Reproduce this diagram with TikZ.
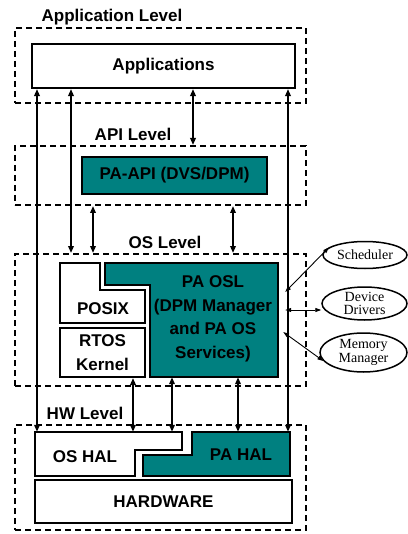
\documentclass[tikz,border=0pt]{standalone}
\usepackage{fontspec}
\setmainfont{Liberation Sans}
\newfontfamily\servicefont{Liberation Serif}
\usetikzlibrary{positioning, arrows.meta, shapes.geometric}
\definecolor{pateal}{RGB}{0,128,128}

\begin{document}
\begin{tikzpicture}[x=1pt, y=-1pt,
    font=\fontsize{17}{23.5}\selectfont\bfseries,
    level/.style={draw, dash pattern=on 6pt off 4pt, line width=2pt,
      minimum width=291pt, inner sep=0pt},
    block/.style={draw, line width=2.1pt, fill=white, inner sep=0pt},
    pablock/.style={block, fill=pateal},
    region/.style={inner sep=0pt},
    service/.style={draw, ellipse, line width=1.5pt, inner sep=0pt, align=center,
      font=\servicefont\fontsize{14}{13.5}\selectfont},
    link/.style={{Triangle[length=7pt,width=5.5pt]}-{Triangle[length=7pt,width=5.5pt]}, line width=2pt},
    thinlink/.style={{Triangle[length=6pt,width=4pt]}-{Triangle[length=6pt,width=4pt]}, line width=0.9pt}]
  \useasboundingbox (0,0) rectangle (407,534);

  % levels
  \node[level, minimum height=75pt]  (applevel) at (160.5,65.5)  {};
  \node[level, minimum height=59pt]  (apilevel) at (160.5,175.5) {};
  \node[level, minimum height=132pt] (oslevel)  at (160.5,320)   {};
  \node[level, minimum height=105pt] (hwlevel)  at (160.5,477.5) {};

  \node (applabel) at (112,17)  {Application Level};
  \node (apilabel) at (133,134) {API Level};
  \node (oslabel)  at (165,242) {OS Level};
  \node (hwlabel)  at (85,413)  {HW Level};

  % application and API
  \node[block, minimum width=263pt, minimum height=44pt] (apps) at (163.5,66) {Applications};
  \node[pablock, minimum width=185pt, minimum height=37pt] (paapi) at (174.5,175.5) {PA-API (DVS/DPM)};

  % OS level
  \draw[block] (60,263) -- (100,263) -- (100,290) -- (145,290) -- (145,323) -- (60,323) -- cycle;
  \draw[pablock] (105,263) -- (278,263) -- (278,377) -- (150,377) -- (150,285) -- (105,285) -- cycle;
  \node[region, minimum width=173pt, minimum height=114pt] (osl) at (191.5,320) {};
  \node (posix) at (103,309) {POSIX};
  \node[block, minimum width=85pt, minimum height=49pt, align=center] (rtos) at (102.5,352.5) {RTOS\\Kernel};
  \node[align=center] (osltext) at (213,319) {PA OSL\\(DPM Manager\\and PA OS\\Services)};

  % HW level
  \draw[block] (35,432) -- (182,432) -- (182,450) -- (135,450) -- (135,476) -- (35,476) -- cycle;
  \draw[pablock] (192,432) -- (290,432) -- (290,476) -- (143,476) -- (143,455) -- (192,455) -- cycle;
  \node[region, minimum width=147pt, minimum height=44pt] (oshal) at (108.5,454) {};
  \node[region, minimum width=147pt, minimum height=44pt] (pahal) at (216.5,454) {};
  \node (oshaltext) at (85,457) {OS HAL};
  \node (pahaltext) at (241,455) {PA HAL};
  \node[block, minimum width=257pt, minimum height=43pt] (hardware) at (163.5,501.5) {HARDWARE};

  % services
  \node[service, minimum width=84pt, minimum height=27pt] (sched)   at (365,255)   {Scheduler};
  \node[service, minimum width=85pt, minimum height=33pt] (drivers) at (364.5,303.5) {Device\\Drivers};
  \node[service, minimum width=87pt, minimum height=39pt] (memory)  at (363.5,352.5) {Memory\\Manager};

  % columns
  \coordinate (colA) at (37,0);
  \coordinate (colB) at (71,0);
  \coordinate (colC) at (93,0);
  \coordinate (colD) at (193,0);
  \coordinate (colE) at (233,0);
  \coordinate (colF) at (288,0);
  \coordinate (colG) at (133,0);
  \coordinate (colH) at (172,0);
  \coordinate (colI) at (238,0);

  \path[link]
    (apps.south -| colA) edge (oshal.north -| colA)
    (apps.south -| colB) edge (oslevel.north -| colB)
    (apps.south -| colD) edge (apilevel.north -| colD)
    (apps.south -| colF) edge (pahal.north -| colF)
    (apilevel.south -| colC) edge (oslevel.north -| colC)
    (apilevel.south -| colE) edge (oslevel.north -| colE)
    (rtos.south -| colG) edge (oshal.north -| colG)
    (osl.south -| colH)  edge (oshal.north -| colH)
    (osl.south -| colI)  edge (pahal.north -| colI);

  \coordinate (schedend) at ([shift={(7,-28)}]osl.east);
  \coordinate (drvend)   at ([shift={(7,-10)}]osl.east);
  \coordinate (memend)   at ([shift={(5,12)}]osl.east);
  \path[thinlink]
    (schedend) edge (sched.168)
    (drvend)   edge (drivers.west |- drvend)
    (memend)   edge (memory.192);
\end{tikzpicture}
\end{document}
